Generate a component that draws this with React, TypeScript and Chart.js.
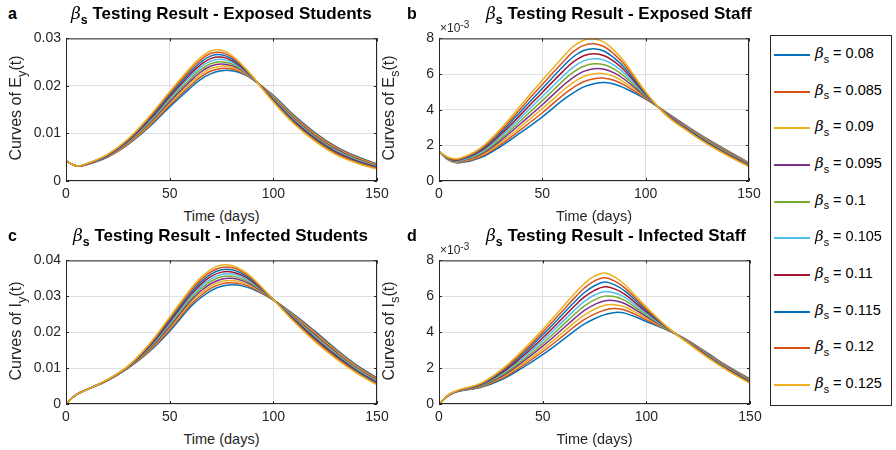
import React, { useEffect, useRef } from "react";
import { Chart, registerables } from "chart.js";

Chart.register(...registerables);

// ---------- data ----------
const DAYS = [0, 5, 10, 20, 30, 40, 50, 60, 65, 70, 75, 80, 85, 90, 100, 110, 120, 130, 140, 150];
const BETA_VALUES = ["0.08", "0.085", "0.09", "0.095", "0.1", "0.105", "0.11", "0.115", "0.12", "0.125"];
const COLORS = ["#0072BD", "#D95319", "#EDB120", "#7E2F8E", "#77AC30", "#4DBEEE", "#A2142F", "#0072BD", "#D95319", "#EDB120"];
const X_TICKS = [0, 50, 100, 150];
const Y_TICKS_EXPOSED_STUDENTS = [0, 0.01, 0.02, 0.03];
const Y_TICKS_INFECTED_STUDENTS = [0, 0.01, 0.02, 0.03, 0.04];
const Y_TICKS_STAFF = [0, 2, 4, 6, 8]; // x10^-3

// E_y(t)
const EXPOSED_STUDENTS = [
  [0.0042, 0.00315, 0.00345, 0.005, 0.0077, 0.0113, 0.0156, 0.0196, 0.0214, 0.0226, 0.0232, 0.0232, 0.0226, 0.0214, 0.018, 0.0138, 0.0102, 0.0073, 0.0052, 0.0036],
  [0.0042, 0.00315, 0.00347, 0.00507, 0.00783, 0.01154, 0.01596, 0.02008, 0.02191, 0.02313, 0.02368, 0.02356, 0.0228, 0.02147, 0.01784, 0.0136, 0.01, 0.00711, 0.00504, 0.00348],
  [0.0042, 0.00315, 0.00349, 0.00513, 0.00797, 0.01179, 0.01631, 0.02056, 0.02242, 0.02367, 0.02416, 0.02391, 0.023, 0.02153, 0.01769, 0.0134, 0.0098, 0.00692, 0.00489, 0.00336],
  [0.0042, 0.00315, 0.00352, 0.0052, 0.0081, 0.01203, 0.01667, 0.02103, 0.02293, 0.0242, 0.02463, 0.02427, 0.0232, 0.0216, 0.01753, 0.0132, 0.0096, 0.00673, 0.00473, 0.00323],
  [0.0042, 0.00315, 0.00354, 0.00527, 0.00823, 0.01228, 0.01702, 0.02151, 0.02344, 0.02473, 0.02511, 0.02462, 0.0234, 0.02167, 0.01738, 0.013, 0.0094, 0.00654, 0.00458, 0.00311],
  [0.0042, 0.00315, 0.00356, 0.00533, 0.00837, 0.01252, 0.01738, 0.02199, 0.02396, 0.02527, 0.02559, 0.02498, 0.0236, 0.02173, 0.01722, 0.0128, 0.0092, 0.00636, 0.00442, 0.00299],
  [0.0042, 0.00315, 0.00358, 0.0054, 0.0085, 0.01277, 0.01773, 0.02247, 0.02447, 0.0258, 0.02607, 0.02533, 0.0238, 0.0218, 0.01707, 0.0126, 0.009, 0.00617, 0.00427, 0.00287],
  [0.0042, 0.00315, 0.0036, 0.00547, 0.00863, 0.01301, 0.01809, 0.02294, 0.02498, 0.02633, 0.02654, 0.02569, 0.024, 0.02187, 0.01691, 0.0124, 0.0088, 0.00598, 0.00411, 0.00274],
  [0.0042, 0.00315, 0.00363, 0.00553, 0.00877, 0.01326, 0.01844, 0.02342, 0.02549, 0.02687, 0.02702, 0.02604, 0.0242, 0.02193, 0.01676, 0.0122, 0.0086, 0.00579, 0.00396, 0.00262],
  [0.0042, 0.00315, 0.00365, 0.0056, 0.0089, 0.0135, 0.0188, 0.0239, 0.026, 0.0274, 0.0275, 0.0264, 0.0244, 0.022, 0.0166, 0.012, 0.0084, 0.0056, 0.0038, 0.0025],
];

// E_s(t) in units of 10^-3
const EXPOSED_STAFF = [
  [1.65, 1.15, 1.02, 1.3, 1.95, 2.75, 3.6, 4.55, 4.95, 5.28, 5.46, 5.52, 5.43, 5.2, 4.6, 3.85, 3.08, 2.35, 1.68, 1.02],
  [1.65, 1.17, 1.05, 1.36, 2.06, 2.92, 3.83, 4.82, 5.24, 5.57, 5.74, 5.77, 5.64, 5.36, 4.64, 3.83, 3.05, 2.32, 1.65, 1.0],
  [1.65, 1.18, 1.08, 1.42, 2.17, 3.09, 4.06, 5.08, 5.53, 5.86, 6.02, 6.02, 5.85, 5.52, 4.69, 3.81, 3.02, 2.28, 1.62, 0.97],
  [1.65, 1.2, 1.11, 1.48, 2.28, 3.27, 4.28, 5.35, 5.82, 6.15, 6.3, 6.27, 6.05, 5.68, 4.73, 3.79, 2.99, 2.25, 1.59, 0.95],
  [1.65, 1.22, 1.14, 1.54, 2.39, 3.44, 4.51, 5.62, 6.11, 6.44, 6.58, 6.52, 6.26, 5.84, 4.78, 3.77, 2.96, 2.22, 1.56, 0.92],
  [1.65, 1.23, 1.16, 1.61, 2.51, 3.61, 4.74, 5.88, 6.39, 6.74, 6.86, 6.78, 6.47, 6.01, 4.82, 3.76, 2.94, 2.18, 1.52, 0.9],
  [1.65, 1.25, 1.19, 1.67, 2.62, 3.78, 4.97, 6.15, 6.68, 7.03, 7.14, 7.03, 6.68, 6.17, 4.87, 3.74, 2.91, 2.15, 1.49, 0.87],
  [1.65, 1.27, 1.22, 1.73, 2.73, 3.96, 5.19, 6.42, 6.97, 7.32, 7.42, 7.28, 6.88, 6.33, 4.91, 3.72, 2.88, 2.12, 1.46, 0.85],
  [1.65, 1.28, 1.25, 1.79, 2.84, 4.13, 5.42, 6.68, 7.26, 7.61, 7.7, 7.53, 7.09, 6.49, 4.96, 3.7, 2.85, 2.08, 1.43, 0.82],
  [1.65, 1.3, 1.28, 1.85, 2.95, 4.3, 5.65, 6.95, 7.55, 7.9, 7.98, 7.78, 7.3, 6.65, 5.0, 3.68, 2.82, 2.05, 1.4, 0.8],
];

// I_y(t)
const INFECTED_STUDENTS = [
  [0, 0.0026, 0.004, 0.0065, 0.01, 0.0145, 0.0203, 0.027, 0.0296, 0.0316, 0.0328, 0.0332, 0.0329, 0.032, 0.029, 0.0249, 0.0203, 0.0154, 0.0109, 0.0073],
  [0, 0.0026, 0.004, 0.00653, 0.01007, 0.01473, 0.02073, 0.02756, 0.03022, 0.03226, 0.03346, 0.0338, 0.03339, 0.03234, 0.02901, 0.02468, 0.01998, 0.0151, 0.01065, 0.00708],
  [0, 0.0026, 0.004, 0.00657, 0.01013, 0.01497, 0.02117, 0.02811, 0.03084, 0.03291, 0.03411, 0.0344, 0.03388, 0.03269, 0.02902, 0.02446, 0.01966, 0.0148, 0.0104, 0.00686],
  [0, 0.0026, 0.004, 0.0066, 0.0102, 0.0152, 0.0216, 0.02867, 0.03147, 0.03357, 0.03477, 0.035, 0.03437, 0.03303, 0.02903, 0.02423, 0.01933, 0.0145, 0.01015, 0.00663],
  [0, 0.0026, 0.004, 0.00663, 0.01027, 0.01543, 0.02203, 0.02922, 0.03209, 0.03422, 0.03542, 0.0356, 0.03486, 0.03338, 0.02904, 0.02401, 0.01901, 0.0142, 0.0099, 0.00641],
  [0, 0.0026, 0.004, 0.00667, 0.01033, 0.01567, 0.02247, 0.02978, 0.03271, 0.03488, 0.03608, 0.0362, 0.03534, 0.03372, 0.02906, 0.02379, 0.01869, 0.0139, 0.00965, 0.00619],
  [0, 0.0026, 0.004, 0.0067, 0.0104, 0.0159, 0.0229, 0.03033, 0.03333, 0.03553, 0.03673, 0.0368, 0.03583, 0.03407, 0.02907, 0.02357, 0.01837, 0.0136, 0.0094, 0.00597],
  [0, 0.0026, 0.004, 0.00673, 0.01047, 0.01613, 0.02333, 0.03089, 0.03396, 0.03619, 0.03739, 0.0374, 0.03632, 0.03441, 0.02908, 0.02334, 0.01804, 0.0133, 0.00915, 0.00574],
  [0, 0.0026, 0.004, 0.00677, 0.01053, 0.01637, 0.02377, 0.03144, 0.03458, 0.03684, 0.03804, 0.038, 0.03681, 0.03476, 0.02909, 0.02312, 0.01772, 0.013, 0.0089, 0.00552],
  [0, 0.0026, 0.004, 0.0068, 0.0106, 0.0166, 0.0242, 0.032, 0.0352, 0.0375, 0.0387, 0.0386, 0.0373, 0.0351, 0.0291, 0.0229, 0.0174, 0.0127, 0.00865, 0.0053],
];

// I_s(t) in units of 10^-3
const INFECTED_STAFF = [
  [0, 0.5, 0.72, 0.92, 1.35, 2.0, 2.75, 3.6, 4.05, 4.45, 4.75, 4.98, 5.1, 5.05, 4.6, 4.12, 3.55, 2.8, 2.05, 1.4],
  [0, 0.51, 0.73, 0.95, 1.41, 2.11, 2.91, 3.81, 4.28, 4.7, 5.01, 5.24, 5.32, 5.22, 4.69, 4.14, 3.53, 2.77, 2.02, 1.37],
  [0, 0.51, 0.74, 0.97, 1.47, 2.21, 3.06, 4.01, 4.51, 4.95, 5.28, 5.5, 5.53, 5.39, 4.78, 4.16, 3.52, 2.74, 1.99, 1.34],
  [0, 0.52, 0.75, 1.0, 1.53, 2.32, 3.22, 4.22, 4.73, 5.2, 5.54, 5.75, 5.75, 5.57, 4.87, 4.18, 3.5, 2.72, 1.97, 1.32],
  [0, 0.52, 0.76, 1.02, 1.59, 2.42, 3.37, 4.42, 4.96, 5.45, 5.8, 6.01, 5.97, 5.74, 4.96, 4.2, 3.48, 2.69, 1.94, 1.29],
  [0, 0.53, 0.76, 1.05, 1.66, 2.53, 3.53, 4.63, 5.19, 5.7, 6.07, 6.27, 6.18, 5.91, 5.04, 4.22, 3.47, 2.66, 1.91, 1.26],
  [0, 0.53, 0.77, 1.07, 1.72, 2.63, 3.68, 4.83, 5.42, 5.95, 6.33, 6.53, 6.4, 6.08, 5.13, 4.24, 3.45, 2.63, 1.88, 1.23],
  [0, 0.54, 0.78, 1.1, 1.78, 2.74, 3.84, 5.04, 5.64, 6.2, 6.59, 6.79, 6.62, 6.26, 5.22, 4.26, 3.43, 2.61, 1.86, 1.21],
  [0, 0.54, 0.79, 1.12, 1.84, 2.84, 3.99, 5.24, 5.87, 6.45, 6.86, 7.04, 6.83, 6.43, 5.31, 4.28, 3.42, 2.58, 1.83, 1.18],
  [0, 0.55, 0.8, 1.15, 1.9, 2.95, 4.15, 5.45, 6.1, 6.7, 7.12, 7.3, 7.05, 6.6, 5.4, 4.3, 3.4, 2.55, 1.8, 1.15],
];

// ---------- styling ----------
const FONT = "'Liberation Sans', Arial, Helvetica, sans-serif";
const AXIS_COLOR = "#262626";
const GRID_COLOR = "#dfdfdf";
const TICK_FONT_SIZE = 14;
const YW = 52; // y-axis width reserved in canvas
const XH = 26; // x-axis height reserved in canvas
const PT = 10;
const PR = 18;

type Rect = { left: number; top: number; width: number; height: number };

const boxPlugin = {
  id: "matlabBox",
  afterDraw(chart: any) {
    const { ctx, chartArea } = chart;
    const { left, top, right, bottom } = chartArea;
    const xs = chart.scales.x;
    const ys = chart.scales.y;
    ctx.save();
    ctx.strokeStyle = AXIS_COLOR;
    ctx.lineWidth = 1;
    ctx.strokeRect(left + 0.5, top + 0.5, right - left - 1, bottom - top - 1);
    ctx.beginPath();
    for (const t of xs.ticks) {
      const px = Math.round(xs.getPixelForValue(t.value)) + 0.5;
      ctx.moveTo(px, bottom);
      ctx.lineTo(px, bottom - 3);
      ctx.moveTo(px, top);
      ctx.lineTo(px, top + 3);
    }
    for (const t of ys.ticks) {
      const py = Math.round(ys.getPixelForValue(t.value)) + 0.5;
      ctx.moveTo(left, py);
      ctx.lineTo(left + 3, py);
      ctx.moveTo(right, py);
      ctx.lineTo(right - 3, py);
    }
    ctx.stroke();
    ctx.restore();
  },
};

function PanelChart({ series, yTicks, rect }: { series: number[][]; yTicks: number[]; rect: Rect }) {
  const ref = useRef<HTMLCanvasElement>(null);
  const cw = rect.width + YW + PR;
  const ch = rect.height + PT + XH;
  useEffect(() => {
    if (!ref.current) return;
    const chart = new Chart(ref.current, {
      type: "line",
      data: {
        datasets: series.map((row, i) => ({
          label: "βs = " + BETA_VALUES[i],
          data: DAYS.map((d, j) => ({ x: d, y: row[j] })),
          borderColor: COLORS[i],
          backgroundColor: COLORS[i],
          borderWidth: 1.5,
          pointRadius: 0,
          fill: false,
          tension: 0.4,
          order: series.length - 1 - i,
        })),
      },
      options: {
        responsive: false,
        animation: false,
        events: [],
        layout: { padding: { left: 0, top: PT, right: PR, bottom: 0 } },
        plugins: { legend: { display: false }, tooltip: { enabled: false }, title: { display: false } },
        scales: {
          x: {
            type: "linear",
            min: X_TICKS[0],
            max: X_TICKS[X_TICKS.length - 1],
            afterBuildTicks: (s: any) => {
              s.ticks = X_TICKS.map((v) => ({ value: v }));
            },
            afterFit: (s: any) => {
              s.height = XH;
            },
            grid: { color: GRID_COLOR, drawTicks: false },
            border: { display: false },
            ticks: {
              padding: 5,
              color: AXIS_COLOR,
              font: { family: FONT, size: TICK_FONT_SIZE },
              maxRotation: 0,
              autoSkip: false,
              callback: (v: any) => String(v),
            },
          },
          y: {
            type: "linear",
            min: yTicks[0],
            max: yTicks[yTicks.length - 1],
            afterBuildTicks: (s: any) => {
              s.ticks = yTicks.map((v) => ({ value: v }));
            },
            afterFit: (s: any) => {
              s.width = YW;
            },
            grid: { color: GRID_COLOR, drawTicks: false },
            border: { display: false },
            ticks: {
              padding: 5,
              color: AXIS_COLOR,
              font: { family: FONT, size: TICK_FONT_SIZE },
              autoSkip: false,
              callback: (v: any) => String(v),
            },
          },
        },
      },
      plugins: [boxPlugin],
    } as any);
    return () => chart.destroy();
  }, []);
  return (
    <canvas
      ref={ref}
      width={cw}
      height={ch}
      style={{ position: "absolute", left: rect.left - YW, top: rect.top - PT, width: cw, height: ch }}
    />
  );
}

const Beta = ({ size }: { size: number }) => (
  <span style={{ whiteSpace: "nowrap" }}>
    <span style={{ fontFamily: "'DejaVu Serif', serif", fontStyle: "italic", fontWeight: "normal", fontSize: size }}>β</span>
    <span style={{ fontSize: size * 0.72, position: "relative", top: size * 0.3 }}>s</span>
  </span>
);

type PanelDef = {
  letter: string;
  letterLeft: number;
  title: string;
  yVar: string;
  ySub: string;
  series: number[][];
  yTicks: number[];
  rect: Rect;
  titleLeft: number;
  titleTop: number;
  exponent: boolean;
};

const PANELS: PanelDef[] = [
  { letter: "a", letterLeft: 8, title: "Testing Result - Exposed Students", yVar: "E", ySub: "y", series: EXPOSED_STUDENTS, yTicks: Y_TICKS_EXPOSED_STUDENTS, rect: { left: 66, top: 35, width: 311, height: 146 }, titleLeft: 71, titleTop: 5, exponent: false },
  { letter: "b", letterLeft: 407, title: "Testing Result - Exposed Staff", yVar: "E", ySub: "s", series: EXPOSED_STAFF, yTicks: Y_TICKS_STAFF, rect: { left: 439, top: 35, width: 310, height: 146 }, titleLeft: 486, titleTop: 5, exponent: true },
  { letter: "c", letterLeft: 8, title: "Testing Result - Infected Students", yVar: "I", ySub: "y", series: INFECTED_STUDENTS, yTicks: Y_TICKS_INFECTED_STUDENTS, rect: { left: 66, top: 257, width: 311, height: 147 }, titleLeft: 73, titleTop: 227, exponent: false },
  { letter: "d", letterLeft: 407, title: "Testing Result - Infected Staff", yVar: "I", ySub: "s", series: INFECTED_STAFF, yTicks: Y_TICKS_STAFF, rect: { left: 439, top: 257, width: 311, height: 147 }, titleLeft: 486, titleTop: 227, exponent: true },
];

function PanelText({ p }: { p: PanelDef }) {
  const { rect } = p;
  const cx = rect.left + rect.width / 2;
  const cy = rect.top + rect.height / 2;
  return (
    <>
      <div style={{ position: "absolute", left: p.letterLeft, top: p.titleTop + 1, fontWeight: "bold", fontSize: 16, lineHeight: 1 }}>{p.letter}</div>
      <div style={{ position: "absolute", left: p.titleLeft, top: p.titleTop, fontWeight: "bold", fontSize: 17, lineHeight: 1, whiteSpace: "nowrap", color: "#000" }}>
        <Beta size={17} /> {p.title}
      </div>
      {p.exponent && (
        <div style={{ position: "absolute", left: rect.left + 1, top: rect.top - 13, fontSize: 12, lineHeight: 1, color: AXIS_COLOR, whiteSpace: "nowrap" }}>
          ×10<span style={{ fontSize: 10, position: "relative", top: -4 }}>-3</span>
        </div>
      )}
      <div
        style={{
          position: "absolute",
          left: rect.left - 50,
          top: cy,
          transform: "translate(-50%, -50%) rotate(-90deg)",
          fontSize: 16,
          lineHeight: 1,
          whiteSpace: "nowrap",
          color: AXIS_COLOR,
        }}
      >
        Curves of {p.yVar}
        <span style={{ fontSize: 13, position: "relative", top: 5 }}>{p.ySub}</span>(t)
      </div>
      <div
        style={{
          position: "absolute",
          left: cx,
          top: rect.top + rect.height + 35,
          transform: "translate(-50%, -50%)",
          fontSize: 14.5,
          lineHeight: 1,
          whiteSpace: "nowrap",
          color: AXIS_COLOR,
        }}
      >
        Time (days)
      </div>
    </>
  );
}

function Legend() {
  return (
    <div style={{ position: "absolute", left: 770, top: 35, width: 120, height: 369, border: "1px solid #262626", background: "#fff" }}>
      {BETA_VALUES.map((b, i) => (
        <div key={b} style={{ position: "absolute", left: 3, top: 19 + i * 36.67, width: 110, height: 0 }}>
          <div style={{ position: "absolute", left: 0, top: -1, width: 36, height: 2, background: COLORS[i] }} />
          <div style={{ position: "absolute", left: 41, top: -9, fontSize: 14.5, lineHeight: 1, whiteSpace: "nowrap", color: "#000" }}>
            <Beta size={15} /> = {b}
          </div>
        </div>
      ))}
    </div>
  );
}

export default function App() {
  return (
    <div style={{ position: "absolute", left: 0, top: 0, width: 896, height: 450, background: "#fff", fontFamily: FONT, overflow: "hidden" }}>
      {PANELS.map((p) => (
        <PanelChart key={p.letter} series={p.series} yTicks={p.yTicks} rect={p.rect} />
      ))}
      {PANELS.map((p) => (
        <PanelText key={"t" + p.letter} p={p} />
      ))}
      <Legend />
    </div>
  );
}
